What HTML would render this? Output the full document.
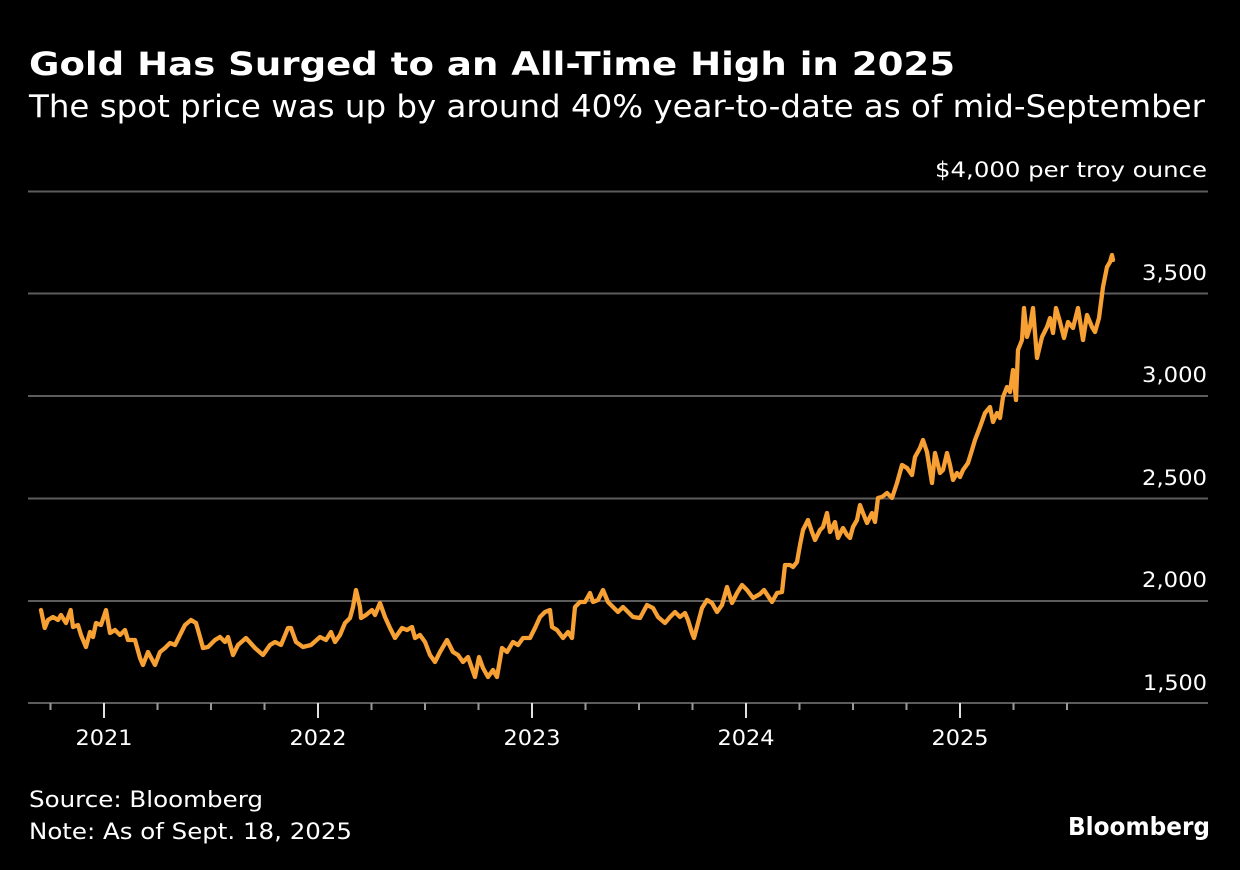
<!DOCTYPE html>
<html>
<head>
<meta charset="utf-8">
<style>
  html, body { margin: 0; padding: 0; background: #000; }
  svg { display: block; }
  text { font-family: "DejaVu Sans", "Liberation Sans", sans-serif; fill: #fff; }
</style>
</head>
<body>
<svg width="1240" height="870" viewBox="0 0 1240 870" xmlns="http://www.w3.org/2000/svg">
  <rect x="0" y="0" width="1240" height="870" fill="#000"/>

  <!-- Title / subtitle -->
  <text x="29" y="75" font-size="32" font-weight="bold" textLength="926" lengthAdjust="spacingAndGlyphs">Gold Has Surged to an All-Time High in 2025</text>
  <text x="29" y="117" font-size="31" textLength="1176" lengthAdjust="spacingAndGlyphs">The spot price was up by around 40% year-to-date as of mid-September</text>

  <!-- Units label -->
  <text x="1207" y="177" font-size="21" text-anchor="end" textLength="272" lengthAdjust="spacingAndGlyphs">$4,000 per troy ounce</text>

  <!-- Gridlines -->
  <g stroke="#5c5c5c" stroke-width="2">
    <line x1="28" y1="191.5" x2="1208" y2="191.5"/>
    <line x1="28" y1="293.5" x2="1208" y2="293.5"/>
    <line x1="28" y1="396" x2="1208" y2="396"/>
    <line x1="28" y1="498.5" x2="1208" y2="498.5"/>
    <line x1="28" y1="601" x2="1208" y2="601"/>
    <line x1="28" y1="703" x2="1208" y2="703"/>
  </g>

  <!-- Y labels -->
  <g font-size="21" text-anchor="end">
    <text x="1207" y="280" textLength="65" lengthAdjust="spacingAndGlyphs">3,500</text>
    <text x="1207" y="382" textLength="65" lengthAdjust="spacingAndGlyphs">3,000</text>
    <text x="1207" y="485" textLength="65" lengthAdjust="spacingAndGlyphs">2,500</text>
    <text x="1207" y="587" textLength="65" lengthAdjust="spacingAndGlyphs">2,000</text>
    <text x="1207" y="690" textLength="64" lengthAdjust="spacingAndGlyphs">1,500</text>
  </g>

  <!-- X ticks -->
  <g stroke="#9a9a9a" stroke-width="2">
    <line x1="50.5" y1="703" x2="50.5" y2="710"/>
    <line x1="104" y1="703" x2="104" y2="718" stroke="#e0e0e0"/>
    <line x1="157.5" y1="703" x2="157.5" y2="710"/>
    <line x1="211" y1="703" x2="211" y2="710"/>
    <line x1="264.5" y1="703" x2="264.5" y2="710"/>
    <line x1="318" y1="703" x2="318" y2="718" stroke="#e0e0e0"/>
    <line x1="371.5" y1="703" x2="371.5" y2="710"/>
    <line x1="425" y1="703" x2="425" y2="710"/>
    <line x1="478.5" y1="703" x2="478.5" y2="710"/>
    <line x1="532" y1="703" x2="532" y2="718" stroke="#e0e0e0"/>
    <line x1="585.5" y1="703" x2="585.5" y2="710"/>
    <line x1="639" y1="703" x2="639" y2="710"/>
    <line x1="692.5" y1="703" x2="692.5" y2="710"/>
    <line x1="746" y1="703" x2="746" y2="718" stroke="#e0e0e0"/>
    <line x1="799.5" y1="703" x2="799.5" y2="710"/>
    <line x1="853" y1="703" x2="853" y2="710"/>
    <line x1="906.5" y1="703" x2="906.5" y2="710"/>
    <line x1="960" y1="703" x2="960" y2="718" stroke="#e0e0e0"/>
    <line x1="1013.5" y1="703" x2="1013.5" y2="710"/>
    <line x1="1067" y1="703" x2="1067" y2="710"/>
  </g>

  <!-- X labels -->
  <g font-size="21" text-anchor="middle">
    <text x="104" y="745" textLength="57" lengthAdjust="spacingAndGlyphs">2021</text>
    <text x="318" y="745" textLength="57" lengthAdjust="spacingAndGlyphs">2022</text>
    <text x="532" y="745" textLength="57" lengthAdjust="spacingAndGlyphs">2023</text>
    <text x="746" y="745" textLength="57" lengthAdjust="spacingAndGlyphs">2024</text>
    <text x="960" y="745" textLength="57" lengthAdjust="spacingAndGlyphs">2025</text>
  </g>

  <!-- Series -->
  <polyline fill="none" stroke="#F7A033" stroke-width="4.3" stroke-linejoin="round" stroke-linecap="round"
    points="41,610 44.7,628 48,620 53,617 58,620 61,615 66,623 70.7,610 73,627 78,625 81,635 86,647 90,632 93,637 96,623 101,625 106,610 110,633 115,630 120,635 125,630 128,640 135,640 140,658 143,665 148,652 155,665 160,652 165,648 170,643 175,645 180,635 185,625 191,620 196,623 200,637 203,648 208,647 215,640 220,637 225,642 228,637 233,655 238,645 246,638 255,648 263,655 270,645 275,642 281,645 288,628 291,628 296,642 303,647 311,645 320,637 326,640 331,632 335,642 340,635 345,623 350,618 353,607 356,590 360,607 361,618 366,615 372,610 375,615 380,603 385,617 390,628 395,638 402,628 407,630 412,627 415,638 420,635 425,642 430,655 435,662 440,652 447,640 453,652 458,655 463,662 468,657 475,677 479,657 483,668 488,677 493,670 497,677 502,648 507,652 513,642 518,645 523,638 530,638 535,628 540,617 545,612 550,610 552,627 557,630 563,638 568,632 572,638 575,607 580,602 585,602 590,593 593,602 598,600 603,590 608,602 613,607 618,612 623,607 628,612 633,617 640,618 647,605 653,608 658,617 665,623 670,617 675,612 680,617 685,613 688,620 692,633 694,638 698,623 702,608 707,600 712,603 717,612 722,605 727,587 732,603 737,593 742,585 747,590 753,598 760,594 764,590 768,596 772,602 777,593 782,592 785,565 790,565 793,567 797,562 800,545 803,530 808,520 812,532 815,540 820,530 823,527 827,513 830,532 835,522 838,538 843,528 847,535 850,538 853,527 857,520 860,505 863,513 867,523 872,513 875,522 878,498 882,497 887,493 892,498 897,483 902,465 907,468 912,475 915,457 920,448 923,440 927,452 932,483 935,453 940,473 943,470 947,453 950,465 953,480 957,473 960,477 963,470 968,463 972,450 975,440 980,427 985,413 990,407 993,422 997,413 1000,418 1003,397 1007,387 1010,392 1013,370 1016,400 1018,350 1022,340 1024,308 1027,337 1030,327 1033,308 1037,358 1042,337 1047,327 1050,318 1053,333 1056,308 1060,322 1064,338 1068,322 1073,328 1078,308 1083,340 1087,315 1092,327 1095,332 1099,318 1103,287 1107,267 1110,262 1112,255 1113,260"/>

  <!-- Footer -->
  <text x="29" y="807" font-size="22" textLength="234" lengthAdjust="spacingAndGlyphs">Source: Bloomberg</text>
  <text x="29" y="839" font-size="22" textLength="323" lengthAdjust="spacingAndGlyphs">Note: As of Sept. 18, 2025</text>
  <text x="1210" y="835" font-size="25" font-weight="bold" text-anchor="end" textLength="142" lengthAdjust="spacingAndGlyphs">Bloomberg</text>
</svg>
</body>
</html>
